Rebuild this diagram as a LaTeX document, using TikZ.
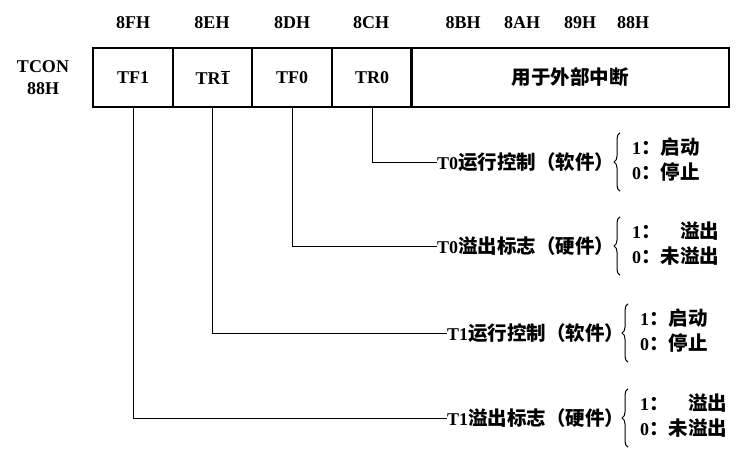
\documentclass[tikz,border=0pt]{standalone}
\usepackage{fontspec}
\setmainfont{Liberation Serif}
\newfontfamily\cjk{Noto Sans CJK SC}
\newcommand{\zh}[1]{{\cjk\fontsize{19.5}{25}\selectfont #1}}
\usetikzlibrary{decorations.pathreplacing}

\begin{document}
\begin{tikzpicture}[x=1pt,y=-1pt,
  txt/.style={font=\bfseries\fontsize{18}{25}\selectfont, inner sep=0pt},
  cell/.style={txt, draw, line width=1.2pt, minimum height=59pt},
  wire/.style={line width=1pt},
  brc/.style={line width=1pt, decorate, decoration={brace, amplitude=6pt}}]

\useasboundingbox (0,0) rectangle (751,458);

% Register
\node[txt, align=center] (name) at (43,78) {TCON\\[-3pt]88H};
\node[cell, minimum width=80pt] (tf1) at (133,77.5) {TF1};
\node[cell, minimum width=79pt] (tr1) at (212.5,77.5) {TR$\overline{\textbf{1}}$};
\node[cell, minimum width=80pt] (tf0) at (292,77.5) {TF0};
\node[cell, minimum width=80pt] (tr0) at (372,77.5) {TR0};
\node[cell, minimum width=318pt] (ext) at (570,77.5) {\zh{用于外部中断}};

% Bit addresses
\node[txt] (a8f) at (133,23) {8FH};
\node[txt] (a8e) at (212,23) {8EH};
\node[txt] (a8d) at (292,23) {8DH};
\node[txt] (a8c) at (371,23) {8CH};
\node[txt] (a8b) at (463,23) {8BH};
\node[txt] (a8a) at (522,23) {8AH};
\node[txt] (a89) at (580,23) {89H};
\node[txt] (a88) at (633,23) {88H};

% Bit meanings
\node[txt, anchor=west] (tr0l) at (437,162) {T0\zh{运行控制（软件）}};
\node[txt, anchor=west] (tf0l) at (437,246) {T0\zh{溢出标志（硬件）}};
\node[txt, anchor=west] (tr1l) at (447,333) {T1\zh{运行控制（软件）}};
\node[txt, anchor=west] (tf1l) at (447,418) {T1\zh{溢出标志（硬件）}};

% Values
\node[txt, anchor=west, inner ysep=4pt] (tr0v) at (632,162)
  {\begin{tabular}{@{}l@{}r@{}}1\zh{：}&\zh{启动}\\0\zh{：}&\zh{停止}\end{tabular}};
\node[txt, anchor=west, inner ysep=4pt] (tf0v) at (632,246)
  {\begin{tabular}{@{}l@{}r@{}}1\zh{：}&\zh{溢出}\\0\zh{：}&\zh{未溢出}\end{tabular}};
\node[txt, anchor=west, inner ysep=4pt] (tr1v) at (640,333)
  {\begin{tabular}{@{}l@{}r@{}}1\zh{：}&\zh{启动}\\0\zh{：}&\zh{停止}\end{tabular}};
\node[txt, anchor=west, inner ysep=4pt] (tf1v) at (640,418)
  {\begin{tabular}{@{}l@{}r@{}}1\zh{：}&\zh{溢出}\\0\zh{：}&\zh{未溢出}\end{tabular}};

% Braces
\foreach \v in {tr0v,tf0v,tr1v,tf1v}
  \draw[brc] ([xshift=-12pt]\v.south west) -- ([xshift=-12pt]\v.north west);

% Connectors
\draw[wire] (tr0.south) |- (tr0l.west);
\draw[wire] (tf0.south) |- (tf0l.west);
\draw[wire] (tr1.south) |- (tr1l.west);
\draw[wire] (tf1.south) |- (tf1l.west);

\end{tikzpicture}
\end{document}
